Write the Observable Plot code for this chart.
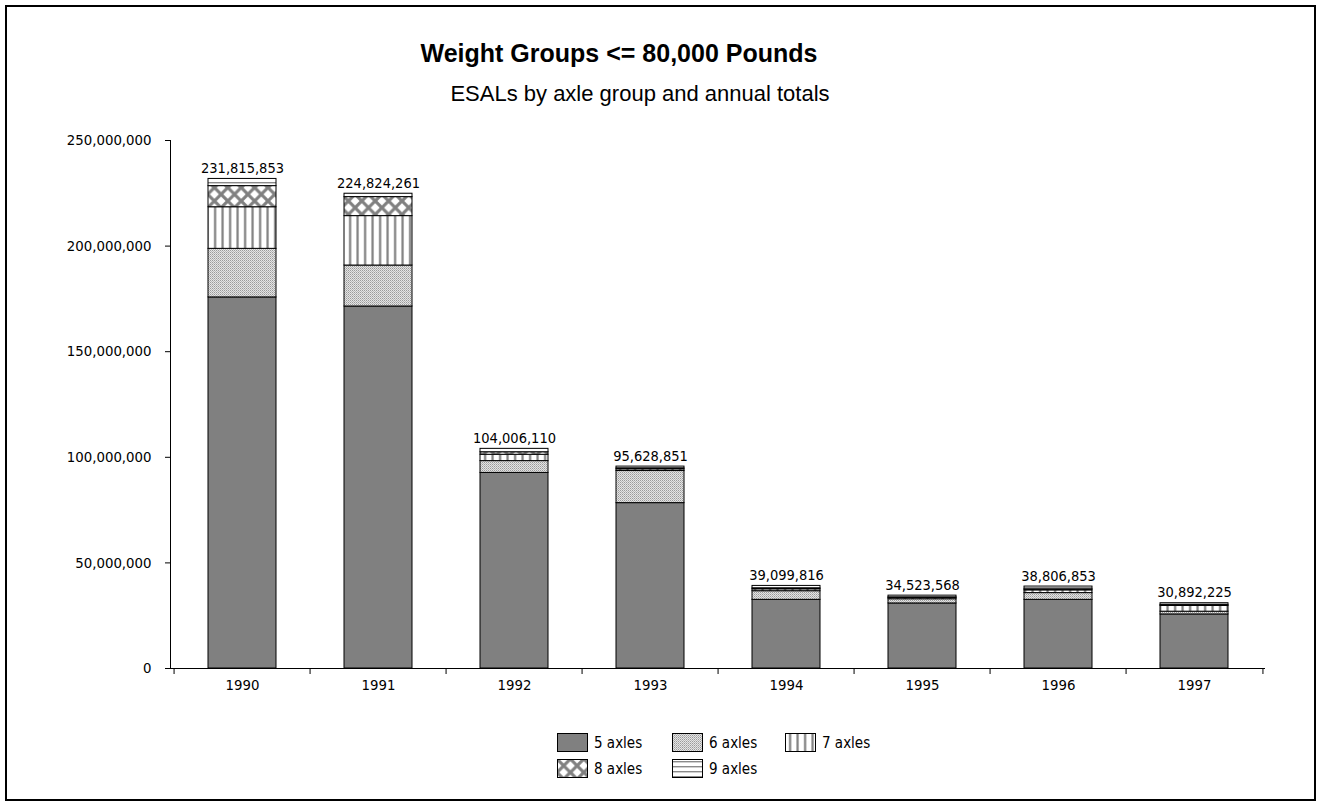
<!DOCTYPE html>
<html>
<head>
<meta charset="utf-8">
<script src="https://cdn.jsdelivr.net/npm/d3@7"></script>
<script src="https://cdn.jsdelivr.net/npm/@observablehq/plot@0.6"></script>
<style>
  html, body { margin: 0; padding: 0; background: #fff; }
  body { width: 1322px; height: 808px; position: relative; overflow: hidden; }
  #frame { position: absolute; left: 5px; top: 5px; width: 1311px; height: 796px; border: 2px solid #000; box-sizing: border-box; }
  #title { position: absolute; top: 39px; left: 619px; transform: translateX(-50%); white-space: nowrap; line-height: normal;
    font-family: "Liberation Sans", Arial, sans-serif; font-weight: bold; font-size: 25px; color: #000; }
  #subtitle { position: absolute; top: 81px; left: 640px; transform: translateX(-50%); white-space: nowrap; line-height: normal;
    font-family: "Liberation Sans", Arial, sans-serif; font-size: 22px; color: #000; }
  #chart { position: absolute; left: 0; top: 0; }
  #legend { position: absolute; left: 557px; top: 733px; font-family: "Liberation Sans Narrow", "Arial Narrow", "DejaVu Sans Condensed", sans-serif; font-size: 15px; }
  .item { position: absolute; display: flex; align-items: center; white-space: nowrap; }
  .item svg { margin-right: 6px; }
  #defs { position: absolute; width: 0; height: 0; }
</style>
</head>
<body>
<svg id="defs" width="0" height="0">
  <defs>
    <pattern id="p5" patternUnits="userSpaceOnUse" width="4" height="4">
      <rect width="4" height="4" fill="#808080"/>
    </pattern>
    <pattern id="p6" patternUnits="userSpaceOnUse" width="2" height="2">
      <rect width="2" height="2" fill="#e4e4e4"/>
      <rect x="0" y="0" width="1" height="1" fill="#9a9a9a"/>
      <rect x="1" y="1" width="1" height="1" fill="#b8b8b8"/>
    </pattern>
    <pattern id="p7" patternUnits="userSpaceOnUse" width="7.5" height="8">
      <rect width="7.5" height="8" fill="#fff"/>
      <rect x="4" y="0" width="2.2" height="8" fill="#808080"/>
    </pattern>
    <pattern id="p8" patternUnits="userSpaceOnUse" width="13.4" height="13.4">
      <rect width="13.4" height="13.4" fill="#fff"/>
      <path d="M-2,-2 L15.4,15.4 M15.4,-2 L-2,15.4" stroke="#808080" stroke-width="3.2"/>
    </pattern>
    <pattern id="p9" patternUnits="userSpaceOnUse" width="8" height="5">
      <rect width="8" height="5" fill="#fff"/>
      <rect x="0" y="2" width="8" height="1.4" fill="#8a8a8a"/>
    </pattern>
  </defs>
</svg>
<div id="frame"></div>
<div id="title">Weight Groups &lt;= 80,000 Pounds</div>
<div id="subtitle">ESALs by axle group and annual totals</div>
<div id="chart"></div>
<div id="legend"></div>
<script>
// ---- data (millions of ESALs; totals from labels) ----
const years = ["1990", "1991", "1992", "1993", "1994", "1995", "1996", "1997"];
const series = ["5 axles", "6 axles", "7 axles", "8 axles", "9 axles"];
const axles5 = [175.7, 171.4, 92.6, 78.3, 32.5, 30.8, 32.5, 25.6];
const axles6 = [23.0, 19.4, 5.6, 15.2, 4.1, 2.0, 3.2, 1.3];
const axles7 = [19.7, 23.4, 3.0, 0.8, 0.9, 0.6, 1.3, 2.7];
const axles8 = [10.0, 9.0, 1.2, 0.4, 0.4, 0.3, 0.5, 0.5];
const axles9 = [3.4, 1.6, 1.6, 0.9, 1.2, 0.8, 1.3, 0.8];
const totals = [231815853, 224824261, 104006110, 95628851, 39099816, 34523568, 38806853, 30892225];
const yTicks = [0, 50000000, 100000000, 150000000, 200000000, 250000000];
const patterns = ["url(#p5)", "url(#p6)", "url(#p7)", "url(#p8)", "url(#p9)"];

const seriesValues = [axles5, axles6, axles7, axles8, axles9];
const rows = [];
years.forEach((yr, i) => {
  series.forEach((s, j) => rows.push({year: yr, series: s, value: seriesValues[j][i] * 1e6}));
});
const totalRows = years.map((yr, i) => ({year: yr, total: totals[i]}));

const W = 1322, H = 700, mL = 170, mR = 57, mT = 140, mB = 32;
const step = (W - mL - mR) / years.length;
const narrow = "'Liberation Sans Narrow', 'Arial Narrow', 'DejaVu Sans Condensed', sans-serif";
const fmt = d3.format(",");

const chart = Plot.plot({
  width: W, height: H,
  marginLeft: mL, marginRight: mR, marginTop: mT, marginBottom: mB,
  style: {fontFamily: narrow, fontSize: "14.8px", color: "#000", background: "transparent", overflow: "visible"},
  x: {type: "band", domain: years, paddingInner: 0.5, paddingOuter: 0.25, axis: null},
  y: {domain: [0, 250000000], axis: null},
  color: {type: "ordinal", domain: series, range: patterns},
  marks: [
    Plot.barY(rows, {x: "year", y: "value", fill: "series", stroke: "#000", strokeWidth: 1}),
    Plot.text(totalRows, {x: "year", y: "total", text: d => fmt(d.total), dy: -6, lineAnchor: "bottom", fill: "#000", fontSize: 14.5}),
    Plot.frame({anchor: "left", stroke: "#000"}),
    Plot.ruleY([0], {stroke: "#000"}),
    Plot.axisY({ticks: yTicks, tickFormat: fmt, tickSize: 5, tickPadding: 14, stroke: "#000", fill: "#000", fontSize: 14.8, label: null}),
    Plot.axisX({tickSize: 6, dx: -step / 2, text: null, stroke: "#000", label: null}),
    Plot.axisX({ticks: [years[years.length - 1]], tickSize: 6, dx: step / 2, text: null, stroke: "#000", label: null}),
    Plot.axisX({tickSize: 0, tickPadding: 11, fill: "#000", fontSize: 14.8, label: null})
  ]
});
document.getElementById("chart").appendChild(chart);

// ---- legend ----
const legend = document.getElementById("legend");
const pos = [[0, 0], [115, 0], [228, 0], [0, 26], [115, 26]];
series.forEach((s, j) => {
  const it = document.createElement("div");
  it.className = "item";
  it.style.left = pos[j][0] + "px";
  it.style.top = pos[j][1] + "px";
  it.innerHTML = `<svg width="31" height="19"><rect x="0.5" y="0.5" width="30" height="18" fill="${patterns[j]}" stroke="#000" stroke-width="1"/></svg><span>${s}</span>`;
  legend.appendChild(it);
});
</script>
</body>
</html>
